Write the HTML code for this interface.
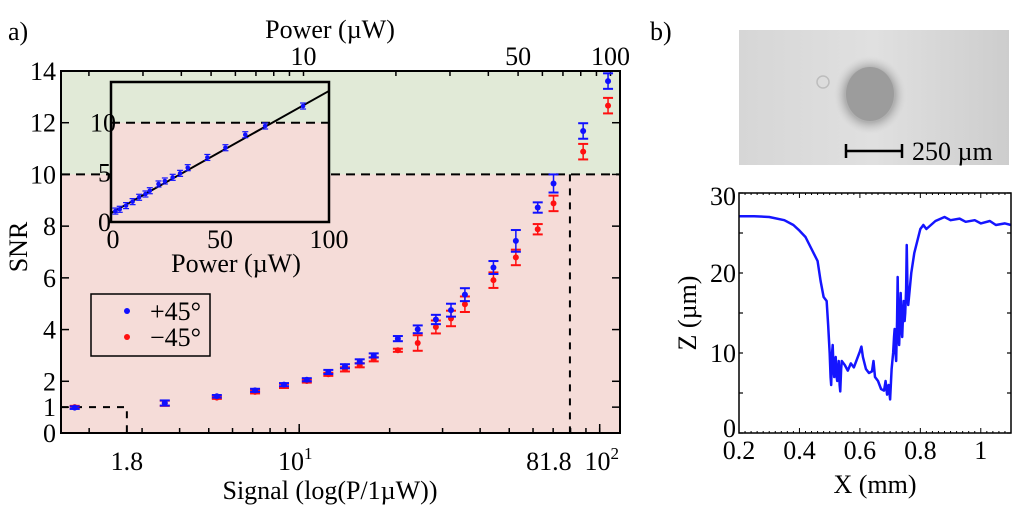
<!DOCTYPE html>
<html><head><meta charset="utf-8"><style>
body{margin:0;background:#fff;}
svg{display:block;font-family:"Liberation Serif",serif;}
</style></head><body>
<svg id="fig" width="1024" height="508" viewBox="0 0 1024 508">
<defs>
<radialGradient id="halo" cx="50%" cy="50%" r="50%"><stop offset="0.7" stop-color="#b0b0b0"/><stop offset="1" stop-color="#d2d2d2" stop-opacity="0"/></radialGradient>
<linearGradient id="bg" x1="0" x2="1"><stop offset="0" stop-color="#d6d6d6"/><stop offset="0.5" stop-color="#e0e0e0"/><stop offset="1" stop-color="#cdcdcd"/></linearGradient>
</defs>
<g id="panelA"></g>
<g id="panelB"></g>
</svg>
<script>
// ---- Panel a data ----
const powers = [1.79,3.57,5.32,7.13,8.9,10.6,12.5,14.2,15.9,17.7,21.3,24.8,28.5,32,35.6,44.3,52.6,62.2,70.2,88.1,106.6];
const snrPlus = [0.98,1.16,1.42,1.65,1.87,2.06,2.36,2.58,2.77,3.0,3.65,4.01,4.39,4.75,5.35,6.4,7.43,8.72,9.65,11.68,13.61];
const errPlus = [0.05,0.1,0.05,0.06,0.06,0.06,0.08,0.08,0.08,0.08,0.1,0.15,0.18,0.25,0.25,0.25,0.42,0.2,0.35,0.3,0.3];
const snrMinus = [1.0,1.15,1.37,1.59,1.82,2.01,2.27,2.46,2.62,2.85,3.2,3.48,4.1,4.43,4.98,5.91,6.79,7.88,8.88,10.88,12.66];
const errMinus = [0.05,0.1,0.05,0.06,0.08,0.06,0.06,0.08,0.08,0.08,0.06,0.3,0.25,0.3,0.3,0.3,0.3,0.2,0.3,0.3,0.3];
const bottomTickVals = [2.67,10,79.6,100];
const bottomTickLabels = ['1.8','10','81.8','10'];
const topTickVals = [10,50,100];
const topTickLabels = ['10','50','100'];
const yTicks = [0,1,2,4,6,8,10,12,14];
const insetX = [2,4,6.9,9.9,12.9,15.8,17.8,21.8,24.7,28.3,31.7,35.2,44.2,52.5,61.6,70.7,88.1];
const insetY = [1.1,1.28,1.65,2.05,2.49,2.82,3.15,3.83,4.13,4.5,4.9,5.47,6.5,7.48,8.79,9.67,11.68];
const insetFit = [0.9,0.123]; // intercept, slope
// ---- Panel b data ----
const profX = [0.2,0.25,0.3,0.35,0.38,0.4,0.42,0.44,0.46,0.47,0.48,0.49,0.495,0.5,0.503,0.505,0.508,0.51,0.513,0.515,0.518,0.52,0.523,0.525,0.528,0.53,0.533,0.535,0.538,0.54,0.55,0.56,0.57,0.58,0.59,0.6,0.605,0.61,0.62,0.63,0.64,0.645,0.65,0.66,0.67,0.68,0.685,0.69,0.695,0.7,0.705,0.71,0.713,0.715,0.718,0.72,0.723,0.725,0.728,0.73,0.733,0.735,0.738,0.74,0.743,0.745,0.748,0.75,0.753,0.755,0.758,0.76,0.77,0.78,0.8,0.81,0.82,0.85,0.88,0.9,0.93,0.95,0.98,1.0,1.03,1.05,1.08,1.1];
const profZ = [27.1,27.1,27.0,26.6,26,25.3,24.5,23,21.5,19,17,16.5,13.5,10,7,6,10,11,8,7,9,9.5,7,6.5,8,9,6,5.2,8,9,8.5,7.8,8.7,8.2,9.2,10.2,10.8,9.5,8,7.5,7.7,9,7,6.5,5.5,5.3,6.5,4.8,6,4.2,8,10,12,13,10,9,14,19.5,12,11,15,17.5,13,12,15,16.5,14,15,18,23.5,17,16,20,22.5,25.5,26,25.5,26.5,27,26.6,26.8,26.4,26.6,26.2,26.5,26,26.2,26];
const bXTicks = [0.2,0.4,0.6,0.8,1];
const bXLabels = ['0.2','0.4','0.6','0.8','1'];
const bYTicks = [0,10,20,30];

const NS='http://www.w3.org/2000/svg';
const FS=26;
function mk(parent,tag,attrs,text){const e=document.createElementNS(NS,tag);for(const k in attrs)e.setAttribute(k,attrs[k]);if(text!==undefined)e.textContent=text;parent.appendChild(e);return e;}

// ---- Panel a ----
const A=document.getElementById('panelA');
const L=61,R=620,T=71,B=433;
const xs=v=>299.2+(Math.log10(v)-1)*300.5;
const xt=v=>303.5+(Math.log10(v)-1)*307;
const ys=v=>B-(B-T)*v/14;
let r=mk(A,'rect',{x:L,y:T,width:R-L,height:ys(10)-T,fill:'#e1ead7'});


r=mk(A,'rect',{x:L,y:ys(10),width:R-L,height:B-ys(10),fill:'#f5dcd8'});


let d=mk(A,'line',{x1:L,x2:R,y1:ys(10),y2:ys(10),stroke:'#000','stroke-width':2,'stroke-dasharray':'9,6'});


d=mk(A,'polyline',{points:`${L},${ys(1)} ${xs(bottomTickVals[0])},${ys(1)} ${xs(bottomTickVals[0])},${B}`,fill:'none',stroke:'#000','stroke-width':2,'stroke-dasharray':'7,7'});


d=mk(A,'polyline',{points:`${xs(bottomTickVals[2])},${ys(10)} ${xs(bottomTickVals[2])},${B}`,fill:'none',stroke:'#000','stroke-width':2,'stroke-dasharray':'7,7'});


const minor=[];for(let dec=1;dec<=100;dec*=10)for(let m=1;m<10;m++){const v=m*dec;if(v>1.62&&v<116)minor.push(v);}
minor.forEach(v=>{mk(A,'line',{x1:xs(v),x2:xs(v),y1:B,y2:B-5,stroke:'#000','stroke-width':1.5});mk(A,'line',{x1:xt(v),x2:xt(v),y1:T,y2:T+5,stroke:'#000','stroke-width':1.5});});
[10,100].forEach(v=>{mk(A,'line',{x1:xs(v),x2:xs(v),y1:B,y2:B-9,stroke:'#000','stroke-width':1.5});});
yTicks.forEach(v=>{mk(A,'line',{x1:L,x2:L+8,y1:ys(v),y2:ys(v),stroke:'#000','stroke-width':1.5});mk(A,'line',{x1:R,x2:R-8,y1:ys(v),y2:ys(v),stroke:'#000','stroke-width':1.5});
 const t=mk(A,'text',{x:L-5,y:ys(v)+9,'text-anchor':'end','font-size':FS},String(v));
 
 });
const bOff=[0,-4,-21,2];
bottomTickVals.forEach((v,i)=>{const t=mk(A,'text',{x:xs(v)+bOff[i],y:470,'text-anchor':'middle','font-size':FS},bottomTickLabels[i]);
 
 
 if(i==1||i==3){mk(t,'tspan',{dy:-11,'font-size':17},i==1?'1':'2');}});
topTickVals.forEach((v,i)=>{const t=mk(A,'text',{x:xt(v),y:65,'text-anchor':'middle','font-size':FS},topTickLabels[i]);
 
 });
let fr=mk(A,'rect',{x:L,y:T,width:R-L,height:B-T,fill:'none',stroke:'#000','stroke-width':2});


function series(vals,errs,col,name){const g=mk(A,'g',{});
 
 
 powers.forEach((p,i)=>{const x=xs(p),y=ys(vals[i]),y1=ys(vals[i]+errs[i]),y2=ys(vals[i]-errs[i]);
 mk(g,'line',{x1:x,x2:x,y1:y1,y2:y2,stroke:col,'stroke-width':1.5});
 mk(g,'line',{x1:x-5,x2:x+5,y1:y1,y2:y1,stroke:col,'stroke-width':2});
 mk(g,'line',{x1:x-5,x2:x+5,y1:y2,y2:y2,stroke:col,'stroke-width':2});
 const c=mk(g,'circle',{cx:x,cy:y,r:3,fill:col});
 
 });}
series(snrMinus,errMinus,'#ff1010','minus45-series');
series(snrPlus,errPlus,'#1010ff','plus45-series');
let t=mk(A,'text',{x:8,y:40,'font-size':FS},'a)');
t=mk(A,'text',{x:330,y:38,'text-anchor':'middle','font-size':FS},'Power (µW)');
t=mk(A,'text',{x:330,y:499,'text-anchor':'middle','font-size':FS},'Signal (log(P/1µW))');
t=mk(A,'text',{x:0,y:0,'text-anchor':'middle','font-size':FS,transform:'translate(27,247) rotate(-90)'},'SNR');
const lg=mk(A,'g',{});
mk(lg,'rect',{x:91,y:294,width:119,height:62,fill:'#f5dcd8',stroke:'#000','stroke-width':1.5});
let le=mk(lg,'g',{});
mk(le,'circle',{cx:127,cy:311,r:3,fill:'#1010ff'});mk(le,'text',{x:150,y:320,'font-size':FS},'+45°');
le=mk(lg,'g',{});
mk(le,'circle',{cx:127,cy:337,r:3,fill:'#ff1010'});mk(le,'text',{x:150,y:346,'font-size':FS},'−45°');
const I=mk(A,'g',{});
const iL=111,iR=329,iT=82,iB=222;
const ix=v=>iL+(iR-iL)*v/100, iy=v=>iB-(iB-iT)*v/14.1;
mk(I,'rect',{x:iL,y:iT,width:iR-iL,height:iy(10)-iT,fill:'#e1ead7'});
mk(I,'rect',{x:iL,y:iy(10),width:iR-iL,height:iB-iy(10),fill:'#f5dcd8'});
mk(I,'line',{x1:iL,x2:iR,y1:iy(10),y2:iy(10),stroke:'#000','stroke-width':2,'stroke-dasharray':'9,6'});
let fl=mk(I,'line',{x1:ix(0),x2:ix(100),y1:iy(insetFit[0]),y2:iy(insetFit[0]+insetFit[1]*100),stroke:'#000','stroke-width':2});

insetX.forEach((v,i)=>{const x=ix(v),y=iy(insetY[i]);mk(I,'line',{x1:x-3,x2:x+3,y1:y-3,y2:y-3,stroke:'#1010ff','stroke-width':1.2});mk(I,'line',{x1:x-3,x2:x+3,y1:y+3,y2:y+3,stroke:'#1010ff','stroke-width':1.2});
 const c=mk(I,'circle',{cx:x,cy:y,r:2.3,fill:'#1010ff'});});
mk(I,'rect',{x:iL,y:iT,width:iR-iL,height:iB-iT,fill:'none',stroke:'#000','stroke-width':2.5});
[0,50,100].forEach(v=>{mk(I,'text',{x:ix(v)+(v==0?2:0),y:248,'text-anchor':'middle','font-size':FS},String(v));});
[0,5,10].forEach(v=>{mk(I,'text',{x:iL+(v==10?5:0),y:iy(v)+9,'text-anchor':'end','font-size':FS},String(v));});
mk(I,'text',{x:236,y:272,'text-anchor':'middle','font-size':FS},'Power (µW)');

// ---- Panel b ----
const Bp=document.getElementById('panelB');
t=mk(Bp,'text',{x:650,y:40,'font-size':FS},'b)');
const im=mk(Bp,'g',{});
mk(im,'rect',{x:739,y:30,width:270,height:135,fill:'url(#bg)'});
mk(im,'ellipse',{cx:870,cy:95,rx:36,ry:39,fill:'url(#halo)'});
mk(im,'ellipse',{cx:870,cy:94,rx:24,ry:27,fill:'#9c9c9c'});
mk(im,'circle',{cx:823,cy:82,r:6,fill:'none',stroke:'#bdbdbd','stroke-width':1.5});
const sb=mk(im,'g',{});
mk(sb,'line',{x1:846,x2:902,y1:151,y2:151,stroke:'#000','stroke-width':2.5});
mk(sb,'line',{x1:846,x2:846,y1:144,y2:158,stroke:'#000','stroke-width':2.5});
mk(sb,'line',{x1:902,x2:902,y1:144,y2:158,stroke:'#000','stroke-width':2.5});
mk(sb,'text',{x:912,y:160,'font-size':FS},'250 µm');
const bL=739,bR=1011,bT=193,bB=433;
const bx=v=>bL+(v-0.2)*(bR-bL)/0.9, by=v=>bB-(bB-bT)*v/30;
for(let v=0.2;v<1.101;v+=0.02){const x=bx(v);const big=Math.abs(v*10-Math.round(v*10))<1e-6&&Math.round(v*10)%2==0;mk(Bp,'line',{x1:x,x2:x,y1:bB,y2:bB-(big?5:2),stroke:'#000','stroke-width':1});mk(Bp,'line',{x1:x,x2:x,y1:bT,y2:bT+(big?5:2),stroke:'#000','stroke-width':1});}
for(let v=0;v<=30;v+=5){mk(Bp,'line',{x1:bL,x2:bL+4,y1:by(v),y2:by(v),stroke:'#000','stroke-width':1.2});mk(Bp,'line',{x1:bR,x2:bR-4,y1:by(v),y2:by(v),stroke:'#000','stroke-width':1.2});}
const pts=profX.map((v,i)=>bx(v)+','+by(profZ[i])).join(' ');
const pl=mk(Bp,'polyline',{points:pts,fill:'none',stroke:'#1515ff','stroke-width':2.5,'stroke-linejoin':'round'});


fr=mk(Bp,'rect',{x:bL,y:bT,width:bR-bL,height:bB-bT,fill:'none',stroke:'#000','stroke-width':1.5});

bXTicks.forEach((v,i)=>{const t=mk(Bp,'text',{x:bx(v),y:459,'text-anchor':'middle','font-size':FS},bXLabels[i]);});
bYTicks.forEach(v=>{const t=mk(Bp,'text',{x:bL-3,y:by(v)+(v==30?12:v==0?4:9),'text-anchor':'end','font-size':FS},String(v));});
t=mk(Bp,'text',{x:875,y:493,'text-anchor':'middle','font-size':FS},'X (mm)');
t=mk(Bp,'text',{x:0,y:0,'text-anchor':'middle','font-size':FS,transform:'translate(696,313) rotate(-90)'},'Z (µm)');
</script>
</body></html>
